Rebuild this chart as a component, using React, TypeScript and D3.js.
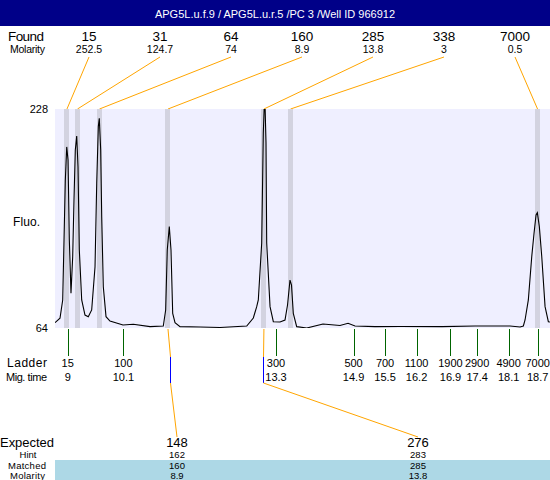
import React from "react";
import * as d3 from "d3";

const title = "APG5L.u.f.9 / APG5L.u.r.5 /PC 3 /Well ID 966912";

const foundSizes = ["15", "31", "64", "160", "285", "338", "7000"];
const foundMolarity = ["252.5", "124.7", "74", "8.9", "13.8", "3", "0.5"];
const foundTimes = [8.985, 9.202, 9.656, 11.07, 13.05, 13.599, 18.697];

const ladderSizes = ["15", "100", "300", "500", "700", "1100", "1900", "2900", "4900", "7000"];
const ladderTimeLabels = ["9", "10.1", "13.3", "14.9", "15.5", "16.2", "16.9", "17.4", "18.1", "18.7"];
const ladderTimes = [9.0, 10.15, 13.3, 14.9, 15.55, 16.2, 16.9, 17.45, 18.1, 18.7];

const expectedSizes = ["148", "276"];
const hintSizes = ["162", "283"];
const matchedSizes = ["160", "285"];
const matchedMolarity = ["8.9", "13.8"];
const matchedFoundIndex = [3, 4];
const expectedTimes = [11.11, 13.03];

const traceTime = [
  8.738, 8.841, 8.897, 8.924, 8.951, 8.98, 9.007, 9.034, 9.068, 9.103, 9.13, 9.157, 9.186,
  9.213, 9.24, 9.289, 9.357, 9.425, 9.495, 9.564, 9.599, 9.632, 9.652, 9.681, 9.702, 9.735,
  9.791, 9.873, 10.141, 10.354, 10.699, 10.973, 11.022, 11.055, 11.097, 11.132, 11.167,
  11.215, 11.318, 11.731, 12.144, 12.695, 12.831, 12.901, 12.934, 13.004, 13.037, 13.066,
  13.093, 13.107, 13.176, 13.244, 13.382, 13.485, 13.537, 13.588, 13.619, 13.656, 13.726,
  13.933, 14.269, 14.62, 14.786, 14.93, 15.343, 15.859, 16.726, 17.407, 18.129, 18.336,
  18.404, 18.439, 18.507, 18.577, 18.625, 18.666, 18.693, 18.734, 18.784, 18.852, 18.92, 18.954,
];
const traceFluo = [
  68.0, 71.3, 85.0, 129.9, 174.8, 199.6, 189.8, 129.9, 90.0, 117.4, 159.9, 197.3, 207.8,
  184.8, 122.4, 85.0, 73.7, 72.5, 77.5, 109.9, 172.4, 214.8, 221.0, 197.3, 147.4, 94.9,
  72.5, 69.2, 66.2, 66.8, 65.0, 65.5, 77.5, 122.4, 139.9, 122.4, 75.0,
  68.0, 65.0, 64.7, 64.4, 65.5, 71.5, 80.0, 85.0, 127.7, 210.0, 240.0,
  202.5, 127.7, 80.0, 68.7, 68.5, 70.0, 81.2, 99.9, 96.2, 75.0, 65.0,
  64.0, 67.0, 65.9, 67.5, 65.5, 65.0, 65.1, 65.0, 65.5, 65.5, 64.7,
  65.5, 70.0, 85.0, 117.4, 135.1, 148.6, 150.3, 139.9, 117.4, 80.0, 68.7, 68.5,
];

const timeExtent = [8.738, 18.954];
const fluoTicks = [64, 228];

export default function App() {
  const W = 550, H = 480;
  const P = { left: 55, right: 550, top: 109, bottom: 328 };
  const x = d3.scaleLinear().domain(timeExtent).range([P.left, P.right]);
  const y = d3.scaleLinear().domain(fluoTicks).range([P.bottom, P.top]);
  const fx = d3.scalePoint<number>().domain(foundSizes.map((_, i) => i)).range([89, 515]);
  const ex = d3.scalePoint<number>().domain(expectedSizes.map((_, i) => i)).range([177, 418]);
  const crisp = (v: number) => Math.round(v) + 0.5;

  const pts: [number, number][] = traceTime.map((t, i) => [t, traceFluo[i]]);
  const line = d3.line<[number, number]>().x((d) => x(d[0])).y((d) => y(d[1]));

  const font = "'Liberation Sans', Arial, sans-serif";
  const orange = "#FFA500";

  return (
    <svg width={W} height={H} style={{ position: "absolute", left: 0, top: 0 }} fontFamily={font}>
      <defs>
        <clipPath id="plotclip">
          <rect x={P.left} y={P.top} width={P.right - P.left} height={P.bottom - P.top} />
        </clipPath>
      </defs>
      <rect x={0} y={0} width={W} height={H} fill="#fff" />
      {/* Title bar */}
      <rect x={0} y={0} width={W} height={26} fill="#000088" />
      <text x={W / 2} y={18} fill="#fff" fontSize={11} textAnchor="middle">{title}</text>

      {/* Found rows */}
      <text x={8} y={40.5} fontSize={13.5} textLength={36}>Found</text>
      <text x={10} y={53} fontSize={10.5} textLength={35}>Molarity</text>
      {foundSizes.map((s, i) => (
        <g key={"f" + i}>
          <text x={fx(i)} y={40.5} fontSize={13.5} textAnchor="middle">{s}</text>
          <text x={fx(i)} y={53} fontSize={10.5} textAnchor="middle">{foundMolarity[i]}</text>
          <line x1={fx(i)} y1={57} x2={x(foundTimes[i])} y2={P.top} stroke={orange} strokeWidth={1} />
        </g>
      ))}

      {/* Plot area */}
      <rect x={P.left} y={P.top} width={P.right - P.left} height={P.bottom - P.top} fill="#EFEFFF" />
      {foundTimes.map((t, i) => (
        <rect key={"b" + i} x={Math.round(x(t) - 2.5)} y={P.top} width={5} height={P.bottom - P.top} fill="#D3D3E0" />
      ))}
      <path d={line(pts) || ""} fill="none" stroke="#000" strokeWidth={1.1} clipPath="url(#plotclip)" />

      {/* Y labels */}
      <text x={48} y={y(fluoTicks[1])} dy="0.35em" fontSize={11} textAnchor="end">{fluoTicks[1]}</text>
      <text x={48} y={y(fluoTicks[0])} dy="0.35em" fontSize={11} textAnchor="end">{fluoTicks[0]}</text>
      <text x={13} y={226} fontSize={12} textLength={27}>Fluo.</text>

      {/* Ladder */}
      {ladderTimes.map((t, i) => (
        <g key={"l" + i}>
          <line x1={crisp(x(t))} y1={P.bottom + 1} x2={crisp(x(t))} y2={356} stroke="#006400" strokeWidth={1} />
          <text x={x(t)} y={367} fontSize={11} textAnchor="middle">{ladderSizes[i]}</text>
          <text x={x(t)} y={381} fontSize={11} textAnchor="middle">{ladderTimeLabels[i]}</text>
        </g>
      ))}
      <text x={7} y={367} fontSize={12} textLength={40}>Ladder</text>
      <text x={6} y={381} fontSize={11} textLength={41}>Mig. time</text>

      {/* Expected connectors */}
      {expectedSizes.map((s, k) => {
        const bx = x(foundTimes[matchedFoundIndex[k]]);
        const etx = crisp(x(expectedTimes[k]));
        return (
          <g key={"e" + k}>
            <path d={`M${bx},${P.bottom + 1}L${etx},357`} stroke={orange} fill="none" />
            <path d={`M${etx},357L${etx},383`} stroke="#0000FF" fill="none" />
            <path d={`M${etx},383L${ex(k)},437`} stroke={orange} fill="none" />
          </g>
        );
      })}

      {/* Table */}
      <rect x={P.left} y={460} width={P.right - P.left} height={20} fill="#ADD8E6" />
      <text x={0} y={446.5} fontSize={13} textLength={54}>Expected</text>
      <text x={28} y={458} fontSize={9.5} textAnchor="middle">Hint</text>
      <text x={27} y={468.5} fontSize={9.5} textAnchor="middle" textLength={38}>Matched</text>
      <text x={27.5} y={478.5} fontSize={9.5} textAnchor="middle" textLength={35}>Molarity</text>
      {expectedSizes.map((s, k) => (
        <g key={"t" + k}>
          <text x={ex(k)} y={446.5} fontSize={13} textAnchor="middle">{s}</text>
          <text x={ex(k)} y={458} fontSize={9.5} textAnchor="middle">{hintSizes[k]}</text>
          <text x={ex(k)} y={468.5} fontSize={9.5} textAnchor="middle">{matchedSizes[k]}</text>
          <text x={ex(k)} y={478.5} fontSize={9.5} textAnchor="middle">{matchedMolarity[k]}</text>
        </g>
      ))}
    </svg>
  );
}
